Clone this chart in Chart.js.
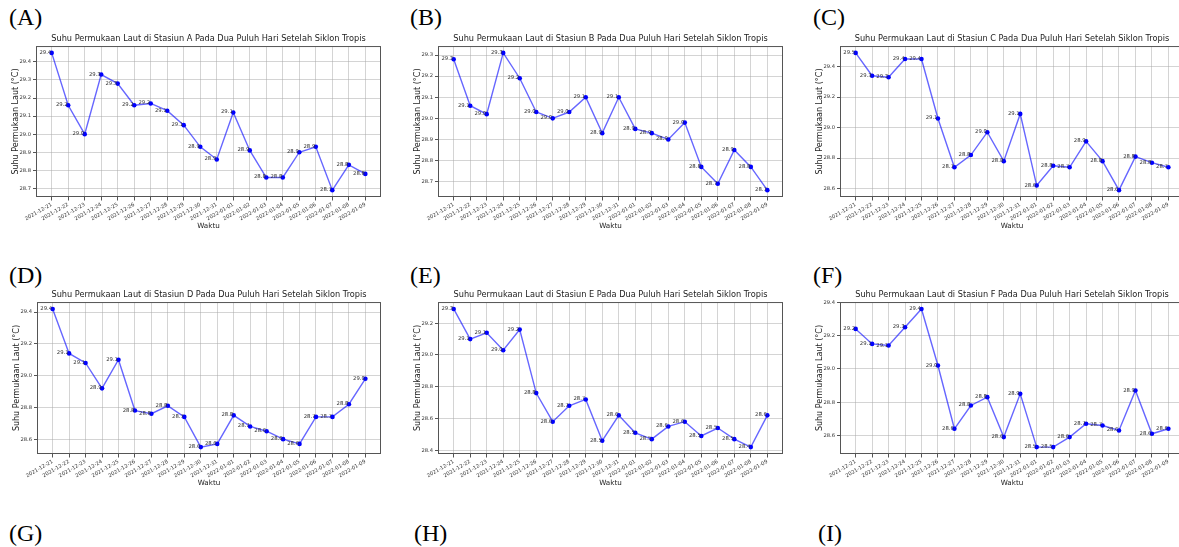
<!DOCTYPE html>
<html>
<head>
<meta charset="utf-8">
<script src="https://cdn.jsdelivr.net/npm/chart.js@4.4.1/dist/chart.umd.min.js"></script>
<style>
  html, body { margin: 0; padding: 0; background: #fff; }
  #page { position: relative; width: 1179px; height: 547px; overflow: hidden; background: #fff; }
  .lbl { position: absolute; font: 24px "Liberation Serif", serif; line-height: 24px; color: #000; }
  .box { position: absolute; }
</style>
</head>
<body>
<div id="page">
  <div class="lbl" style="left:9px;top:5px">(A)</div>
  <div class="lbl" style="left:410px;top:5px">(B)</div>
  <div class="lbl" style="left:813px;top:5px">(C)</div>
  <div class="lbl" style="left:9px;top:263px">(D)</div>
  <div class="lbl" style="left:410px;top:263px">(E)</div>
  <div class="lbl" style="left:813px;top:263px">(F)</div>
  <div class="lbl" style="left:9px;top:521px">(G)</div>
  <div class="lbl" style="left:414px;top:521px">(H)</div>
  <div class="lbl" style="left:818px;top:521px">(I)</div>

  <div class="box" style="left:0px;top:30px;width:393px;height:210px"><canvas id="chartA"></canvas></div>
  <div class="box" style="left:402px;top:30px;width:393px;height:210px"><canvas id="chartB"></canvas></div>
  <div class="box" style="left:804px;top:30px;width:392px;height:210px"><canvas id="chartC"></canvas></div>
  <div class="box" style="left:1px;top:286px;width:392px;height:211px"><canvas id="chartD"></canvas></div>
  <div class="box" style="left:402px;top:286px;width:393px;height:211px"><canvas id="chartE"></canvas></div>
  <div class="box" style="left:804px;top:286px;width:392px;height:211px"><canvas id="chartF"></canvas></div>
</div>

<script>
// tanggal pengamatan (20 hari)
const tanggal = ['2021-12-21', '2021-12-22', '2021-12-23', '2021-12-24', '2021-12-25',
                 '2021-12-26', '2021-12-27', '2021-12-28', '2021-12-29', '2021-12-30',
                 '2021-12-31', '2022-01-01', '2022-01-02', '2022-01-03', '2022-01-04',
                 '2022-01-05', '2022-01-06', '2022-01-07', '2022-01-08', '2022-01-09'];

// suhu permukaan laut tiap stasiun (°C)
const suhuA = [29.45, 29.16, 29.00, 29.33, 29.28, 29.16, 29.17, 29.13, 29.05, 28.93,
               28.86, 29.12, 28.91, 28.76, 28.76, 28.90, 28.93, 28.69, 28.83, 28.78];
const suhuB = [29.28, 29.06, 29.02, 29.31, 29.19, 29.03, 29.00, 29.03, 29.10, 28.93,
               29.10, 28.95, 28.93, 28.90, 28.98, 28.77, 28.69, 28.85, 28.77, 28.66];
const suhuC = [29.49, 29.34, 29.33, 29.45, 29.45, 29.06, 28.74, 28.82, 28.97, 28.78,
               29.09, 28.62, 28.75, 28.74, 28.91, 28.78, 28.59, 28.81, 28.77, 28.74];
const suhuD = [29.42, 29.14, 29.08, 28.92, 29.10, 28.78, 28.76, 28.81, 28.74, 28.55,
               28.57, 28.75, 28.68, 28.65, 28.60, 28.57, 28.74, 28.74, 28.82, 28.98];
const suhuE = [29.29, 29.10, 29.14, 29.03, 29.16, 28.76, 28.58, 28.68, 28.72, 28.46,
               28.62, 28.51, 28.47, 28.55, 28.58, 28.49, 28.54, 28.47, 28.42, 28.62];
const suhuF = [29.24, 29.15, 29.14, 29.25, 29.36, 29.02, 28.64, 28.78, 28.83, 28.59,
               28.85, 28.53, 28.53, 28.59, 28.67, 28.66, 28.63, 28.87, 28.61, 28.64];

// label sumbu y
const ticksA = [28.7, 28.8, 28.9, 29.0, 29.1, 29.2, 29.3, 29.4];
const ticksB = [28.7, 28.8, 28.9, 29.0, 29.1, 29.2, 29.3];
const ticksC = [28.6, 28.8, 29.0, 29.2, 29.4];
const ticksD = [28.6, 28.8, 29.0, 29.2, 29.4];
const ticksE = [28.4, 28.6, 28.8, 29.0, 29.2];
const ticksF = [28.6, 28.8, 29.0, 29.2, 29.4];

const FONT = '"DejaVu Sans", sans-serif';

// bingkai plot + label nilai di tiap titik
const frameAndLabels = {
    id: 'frameAndLabels',
    afterDatasetsDraw(chart) {
        const ctx = chart.ctx;
        const a = chart.chartArea;
        ctx.save();
        ctx.strokeStyle = '#555';
        ctx.lineWidth = 1;
        ctx.strokeRect(a.left + 0.5, a.top + 0.5, a.right - a.left - 1, a.bottom - a.top - 1);

        const meta = chart.getDatasetMeta(0);
        const vals = chart.data.datasets[0].data;
        ctx.font = '5.3px ' + FONT;
        ctx.fillStyle = '#333';
        ctx.textAlign = 'right';
        ctx.textBaseline = 'alphabetic';
        meta.data.forEach(function (pt, i) {
            ctx.fillText(vals[i].y.toFixed(1), pt.x - 0.5, pt.y + 1);
        });
        ctx.restore();
    }
};

function buatChart(id, stasiun, suhu, yTicks, opt) {
    let lo = Math.min(...suhu), hi = Math.max(...suhu);
    let m = (hi - lo) * 0.05;
    let pts = [];
    for (let i = 0; i < suhu.length; i++) {
        pts.push({x: i, y: suhu[i]});
    }

    new Chart(document.getElementById(id), {
        type: 'line',
        data: {
            datasets: [{
                data: pts,
                borderColor: 'rgba(0,0,255,0.6)',
                borderWidth: 1.4,
                pointRadius: 2.3,
                pointBackgroundColor: '#0000ff',
                pointBorderWidth: 0,
                tension: 0
            }]
        },
        options: {
            responsive: true,
            maintainAspectRatio: false,
            animation: false,
            devicePixelRatio: 1,
            layout: { padding: { left: 0, right: 12, top: 0, bottom: 0 } },
            plugins: {
                legend: { display: false },
                tooltip: { enabled: false },
                title: {
                    display: true,
                    fullSize: false,
                    text: 'Suhu Permukaan Laut di Stasiun ' + stasiun + ' Pada Dua Puluh Hari Setelah Siklon Tropis',
                    color: '#222',
                    font: { family: FONT, size: 8.2, weight: 'normal' },
                    padding: { top: 4, bottom: 2.2 }
                }
            },
            scales: {
                x: {
                    type: 'linear',
                    min: -0.95,
                    max: suhu.length - 1 + 0.95,
                    afterBuildTicks: function (s) {
                        s.ticks = tanggal.map(function (t, i) { return {value: i}; });
                    },
                    afterFit: function (s) { s.height = opt.xh; },
                    ticks: {
                        autoSkip: false,
                        minRotation: 30,
                        maxRotation: 30,
                        padding: 1,
                        color: '#333',
                        font: { family: FONT, size: 5.2 },
                        callback: function (v) { return tanggal[v]; }
                    },
                    grid: { color: 'rgba(170,170,170,0.5)', lineWidth: 1, tickLength: 3.5, tickColor: '#555' },
                    border: { display: false },
                    title: {
                        display: true,
                        text: 'Waktu',
                        color: '#222',
                        font: { family: FONT, size: 7.2 },
                        padding: { top: 0, bottom: 10 }
                    }
                },
                y: {
                    min: lo - m,
                    max: hi + m,
                    afterBuildTicks: function (s) {
                        s.ticks = yTicks.map(function (v) { return {value: v}; });
                    },
                    afterFit: function (s) { s.width = 36; },
                    ticks: {
                        padding: 2,
                        color: '#333',
                        font: { family: FONT, size: 5.2 },
                        callback: function (v) { return v.toFixed(1); }
                    },
                    grid: { color: 'rgba(170,170,170,0.5)', lineWidth: 1, tickLength: 3, tickColor: '#555' },
                    border: { display: false },
                    title: {
                        display: true,
                        text: 'Suhu Permukaan Laut (°C)',
                        color: '#222',
                        font: { family: FONT, size: 8 },
                        padding: { top: 10.8, bottom: 0 }
                    }
                }
            }
        },
        plugins: [frameAndLabels]
    });
}

buatChart('chartA', 'A', suhuA, ticksA, {xh: 43});
buatChart('chartB', 'B', suhuB, ticksB, {xh: 43});
buatChart('chartC', 'C', suhuC, ticksC, {xh: 43});
buatChart('chartD', 'D', suhuD, ticksD, {xh: 43});
buatChart('chartE', 'E', suhuE, ticksE, {xh: 43});
buatChart('chartF', 'F', suhuF, ticksF, {xh: 43});
</script>
</body>
</html>
